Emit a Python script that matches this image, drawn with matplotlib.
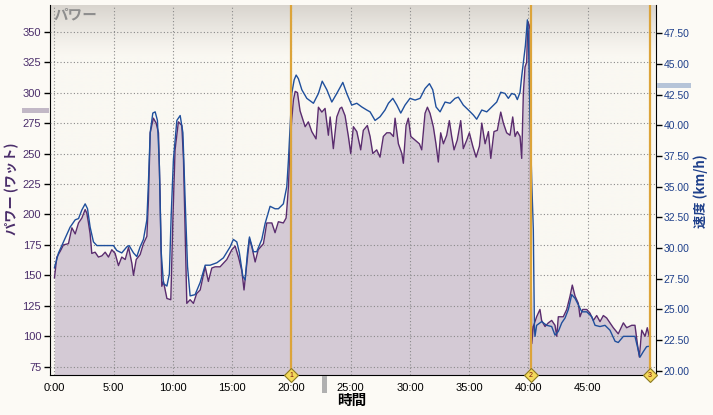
import numpy as np
import matplotlib
matplotlib.use("Agg")
import matplotlib.pyplot as plt
from matplotlib.patches import Rectangle
from matplotlib.colors import to_rgb

# ---------------- data ----------------
power_t = [0.0, 0.2, 0.5, 0.76, 1.18, 1.47, 1.75, 2.03, 2.31, 2.59, 2.73, 2.87, 3.01, 3.15, 3.43, 3.71,
           4.0, 4.28, 4.56, 4.84, 5.12, 5.4, 5.68, 5.97, 6.25, 6.53, 6.67, 6.9, 7.23, 7.51, 7.8, 7.93,
           8.08, 8.35, 8.58, 8.78, 8.92, 9.06, 9.2, 9.49, 9.82, 10.0, 10.18, 10.46, 10.75, 10.89, 11.03,
           11.17, 11.45, 11.73, 12.0, 12.3, 12.72, 12.99, 13.28, 13.56, 13.98, 14.55, 14.97, 15.25, 15.53,
           15.81, 16.0, 16.24, 16.46, 16.65, 16.94, 17.2, 17.64, 17.92, 18.35, 18.62, 18.9, 19.32, 19.55,
           19.61, 19.75, 19.89, 20.03, 20.17, 20.32, 20.51, 20.73, 21.16, 21.43, 21.72, 22.08, 22.28,
           22.57, 22.84, 23.12, 23.27, 23.54, 23.83, 24.1, 24.25, 24.53, 24.81, 25.01, 25.23, 25.52,
           25.85, 26.07, 26.41, 26.64, 26.87, 27.2, 27.48, 27.76, 28.05, 28.33, 28.61, 28.75, 29.03,
           29.32, 29.45, 29.68, 29.87, 30.08, 30.44, 30.8, 31.0, 31.28, 31.48, 31.7, 31.98, 32.2, 32.4,
           32.6, 32.83, 33.11, 33.33, 33.53, 33.73, 34.0, 34.29, 34.51, 34.8, 35.02, 35.31, 35.59, 35.87,
           36.07, 36.35, 36.63, 36.83, 37.1, 37.38, 37.67, 37.89, 38.17, 38.45, 38.68, 38.88, 39.07,
           39.3, 39.44, 39.58, 39.72, 39.86, 39.95, 40.05, 40.14, 40.2, 40.29, 40.42, 40.7, 40.98, 41.12,
           41.41, 41.69, 41.97, 42.25, 42.4, 42.53, 42.95, 43.24, 43.52, 43.71, 43.94, 44.22, 44.36,
           44.59, 44.93, 45.2, 45.49, 45.77, 46.05, 46.33, 46.61, 46.89, 47.17, 47.59, 48.02, 48.3,
           48.73, 49.0, 49.2, 49.37, 49.57, 49.85, 50.04, 50.2]
power_w = [148, 165, 170, 175, 176, 189, 184, 193, 197, 204, 201, 193, 184, 168, 169, 165,
           166, 169, 165, 171, 168, 158, 165, 163, 173, 160, 150, 163, 167, 176, 182, 212,
           267, 279, 275, 267, 212, 141, 145, 131, 130, 198, 253, 276, 273, 245, 185,
           127, 130, 127, 135, 138, 157, 145, 156, 157, 157, 163, 171, 174, 165,
           154, 138, 160, 180, 174, 161, 171, 176, 193, 193, 185, 194, 193, 197,
           204, 223, 258, 278, 294, 301, 300, 285, 272, 276, 268, 262, 288,
           284, 287, 265, 280, 254, 280, 287, 288, 281, 264, 250, 272, 268,
           253, 269, 273, 264, 250, 253, 247, 264, 267, 267, 264, 279, 258,
           250, 242, 273, 279, 264, 261, 258, 253, 283, 288, 283, 272, 258, 243,
           267, 258, 265, 277, 264, 253, 261, 277, 254, 261, 267, 256, 247, 256,
           275, 258, 268, 246, 268, 269, 284, 275, 267, 265, 280, 264, 268,
           264, 246, 300, 321, 325, 358, 356, 352, 200, 94, 108, 116, 122, 113,
           108, 111, 113, 109, 100, 116, 116, 122, 133, 142, 133, 127, 116,
           122, 122, 119, 113, 117, 112, 117, 115, 111, 107, 102, 111, 107,
           109, 109, 94, 83, 105, 100, 107, 100]

speed_t = [0.0, 0.34, 0.76, 1.32, 1.75, 2.03, 2.31, 2.59, 2.79, 3.01, 3.29, 3.58, 4.0, 4.56, 4.98,
           5.26, 5.68, 6.11, 6.3, 6.67, 6.95, 7.23, 7.51, 7.8, 7.93, 8.08, 8.3, 8.5, 8.69, 8.86, 9.0,
           9.2, 9.49, 9.7, 9.85, 10.04, 10.33, 10.61, 10.84, 11.03, 11.23, 11.45, 11.87, 12.3, 12.72,
           13.14, 13.71, 14.26, 14.83, 15.1, 15.39, 15.61, 15.9, 16.09, 16.29, 16.46, 16.79, 17.07,
           17.5, 17.78, 18.2, 18.62, 18.9, 19.32, 19.61, 19.75, 19.89, 20.03, 20.23, 20.4, 20.59,
           20.88, 21.3, 21.86, 22.28, 22.6, 22.99, 23.41, 23.83, 24.34, 24.67, 25.09, 25.52, 25.94,
           26.36, 26.64, 27.06, 27.48, 27.9, 28.19, 28.56, 28.9, 29.23, 29.59, 30.01, 30.44, 30.86,
           31.28, 31.65, 31.93, 32.21, 32.55, 32.97, 33.39, 33.81, 34.09, 34.51, 34.94, 35.36, 35.64,
           36.07, 36.49, 36.91, 37.33, 37.67, 38.03, 38.31, 38.6, 38.88, 39.07, 39.3, 39.44, 39.58,
           39.75, 39.92, 40.0, 40.14, 40.3, 40.42, 40.51, 40.56, 40.7, 41.12, 41.55, 41.97, 42.25,
           42.53, 42.82, 43.1, 43.38, 43.66, 43.94, 44.22, 44.51, 44.93, 45.35, 45.63, 46.05, 46.47,
           46.89, 47.32, 47.59, 48.02, 48.58, 49.0, 49.2, 49.42, 49.7, 49.98, 50.26]
speed_k = [28.4, 29.6, 30.5, 31.7, 32.3, 32.4, 33.1, 33.6, 33.2, 31.7, 30.5, 30.2, 30.2, 30.2, 30.2,
           29.8, 29.6, 30.1, 30.2, 29.6, 29.3, 30.1, 30.7, 32.3, 35.3, 39.4, 41.0, 41.1, 40.4, 36.6, 29.8,
           27.1, 26.9, 27.9, 32.6, 37.2, 40.4, 40.8, 39.4, 33.9, 28.5, 26.1, 26.2, 27.2, 28.6,
           28.6, 28.8, 29.2, 30.1, 30.7, 30.5, 29.6, 27.7, 27.4, 29.6, 30.9, 29.7, 29.7,
           30.7, 32.0, 33.4, 33.2, 33.2, 33.6, 35.0, 37.2, 39.9, 42.6, 43.7, 44.1, 43.8,
           42.9, 42.2, 41.8, 42.6, 43.6, 42.9, 41.9, 42.6, 43.5, 42.6, 41.65, 41.8, 41.5,
           41.25, 41.1, 40.4, 40.7, 41.25, 41.8, 42.2, 41.65, 41.0, 41.65, 42.2, 42.06, 42.2,
           43.0, 43.4, 42.9, 41.5, 41.1, 41.9, 41.8, 42.2, 42.3, 41.65, 41.25, 40.84, 40.5,
           41.25, 41.1, 41.5, 41.9, 42.7, 42.6, 42.2, 42.6, 42.5, 42.1, 42.7, 44.0, 45.1,
           46.5, 48.6, 47.5, 40.7, 35.0, 31.5, 23.6, 22.8, 23.7, 24.0, 23.7, 23.6, 22.9,
           23.2, 23.9, 24.3, 25.0, 26.2, 25.9, 25.35, 24.8, 24.8, 24.4, 23.7, 23.6, 23.7,
           23.3, 22.4, 22.3, 22.8, 22.8, 22.8, 22.0, 21.1, 21.55, 21.96, 22.0]

lap_times = [20.0, 40.2, 50.25]
lap_labels = ["1", "2", "3"]
x_ticks = [0, 5, 10, 15, 20, 25, 30, 35, 40, 45]
x_ticklabels = ["0:00", "5:00", "10:00", "15:00", "20:00", "25:00", "30:00", "35:00", "40:00", "45:00"]
power_ticks = [75, 100, 125, 150, 175, 200, 225, 250, 275, 300, 325, 350]
speed_ticks = [20.0, 22.5, 25.0, 27.5, 30.0, 32.5, 35.0, 37.5, 40.0, 42.5, 45.0, 47.5]

# ---------------- style ----------------
W, H = 713, 415
BG = "#fcfaf5"
PLOT_BG = "#faf8f2"
PURPLE = "#5a2c6e"
PURPLE_TXT = "#4a2d6a"
FILL = "#d4cad5"
BLUE = "#1f4f9c"
BLUE_TXT = "#1e3f8a"
ORANGE = "#dca43a"
NUM_FONT = ["Liberation Sans", "DejaVu Sans"]
JP_FONT = ["Noto Sans CJK JP", "DejaVu Sans"]

plt.rcParams["font.family"] = NUM_FONT

fig = plt.figure(figsize=(W / 100, H / 100), dpi=100, facecolor=BG)
left, right, bottom, top = 49.5, 655.7, 375.0, 5.0
ax = fig.add_axes([left / W, 1 - bottom / H, (right - left) / W, (bottom - top) / H])
ax.set_facecolor(PLOT_BG)

# top gradient
n = 400
frac = np.linspace(0, 1, n)  # 0 bottom -> 1 top
c_top = np.array(to_rgb("#d8d4ce"))
c_bot = np.array(to_rgb(PLOT_BG))
g = np.clip((frac - 0.86) / 0.14, 0, 1) ** 1.2
img = c_bot[None, :] * (1 - g[:, None]) + c_top[None, :] * g[:, None]
img = img[::-1][:, None, :]
ax.imshow(img, extent=[0, 1, 0, 1], transform=ax.transAxes, aspect="auto", zorder=0,
          interpolation="bilinear")

xlim = (-0.42, 50.75)
plim = (68.2, 371.9)
slim = (19.65, 49.81)

ax.fill_between(power_t, power_w, plim[0], color=FILL, lw=0, zorder=1)
ax.plot(power_t, power_w, color=PURPLE, lw=1.0, zorder=3)

ax.set_xlim(*xlim)
ax.set_ylim(*plim)
ax.set_xticks(x_ticks)
ax.set_xticklabels(x_ticklabels)
ax.set_yticks(power_ticks)
ax.grid(True, color="#8a8a8a", linestyle=(0, (1, 2)), lw=0.8, zorder=2)
ax.set_axisbelow(False)
for gl in ax.get_xgridlines() + ax.get_ygridlines():
    gl.set_zorder(2)

ax.tick_params(axis="y", colors="black", labelcolor=PURPLE_TXT, labelsize=8, length=4, width=1, pad=2)
ax.tick_params(axis="x", colors="black", labelcolor="black", labelsize=8, length=0, pad=6)
for s in ["top", "right"]:
    ax.spines[s].set_visible(False)
ax.spines["left"].set_color("black")
ax.spines["bottom"].set_color("black")
ax.spines["bottom"].set_zorder(6)

ax2 = ax.twinx()
ax2.set_ylim(*slim)
ax2.set_xlim(*xlim)
ax2.plot(speed_t, speed_k, color=BLUE, lw=1.0, zorder=3)
ax2.set_yticks(speed_ticks)
ax2.set_yticklabels([f"{v:.2f}" for v in speed_ticks])
ax2.tick_params(axis="y", colors="black", labelcolor=BLUE_TXT, labelsize=7.5, length=4, width=1, pad=1.5)
for s in ["top", "left", "bottom"]:
    ax2.spines[s].set_visible(False)
ax2.spines["right"].set_color("black")

# lap lines and markers
for t, lab in zip(lap_times, lap_labels):
    ax2.axvline(t, color=ORANGE, lw=1.6, zorder=4)
    ax2.plot([t], [slim[0]], marker="D", ms=7, mfc="#f4d95a", mec="#8c7a22", mew=0.8,
             clip_on=False, zorder=7)
    ax2.text(t, slim[0], lab, ha="center", va="center", fontsize=5, color="#7a1010",
             zorder=8, clip_on=False)

# labels
ax.text(0.006, 0.997, "パワー", transform=ax.transAxes, ha="left", va="top", fontsize=10.5,
        style="italic", color="#8e8e8e", family=JP_FONT, fontweight="bold")
fig.text(12 / W, 1 - 189 / H, "パワー (ワット)", rotation=90, ha="center", va="center",
         fontsize=9.5, color=PURPLE_TXT, family=JP_FONT, fontweight="bold")
fig.text(701 / W, 1 - 191 / H, "速度 (km/h)", rotation=90, ha="center", va="center",
         fontsize=9.5, color=BLUE_TXT, family=JP_FONT, fontweight="bold")
fig.text(352 / W, 1 - 400 / H, "時間", ha="center", va="center", fontsize=10.5,
         color="black", family=JP_FONT, fontweight="bold")

# indicator bars outside the plot
def px_rect(x0, y0, x1, y1, color):
    fig.add_artist(Rectangle((x0 / W, 1 - y1 / H), (x1 - x0) / W, (y1 - y0) / H,
                             transform=fig.transFigure, color=color, lw=0))

px_rect(22, 107.7, 49, 112.7, "#c2b8c6")
px_rect(656.5, 83.3, 690.7, 87.7, "#b6c4d8")
px_rect(321.7, 376, 326.7, 392.7, "#b0b0b0")

fig.savefig("out.png", dpi=100, facecolor=BG)
